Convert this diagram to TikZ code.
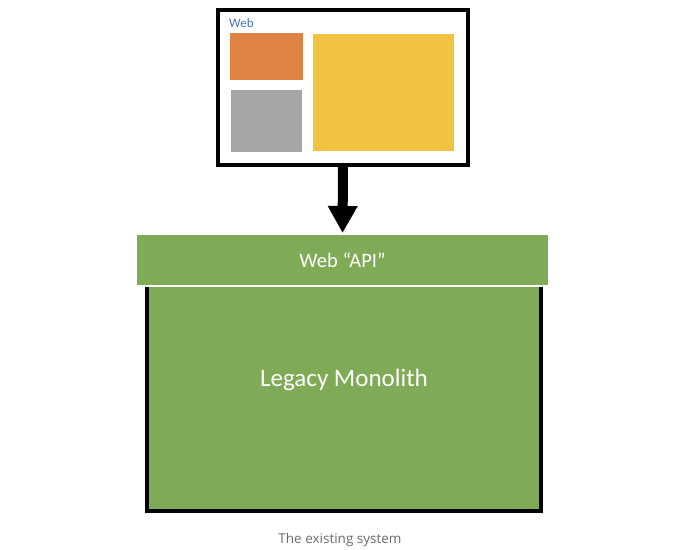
\documentclass[tikz,border=0pt]{standalone}
\usepackage{fontspec}
\setmainfont{Carlito}
\newfontfamily\captionfont{Open Sans}
\usetikzlibrary{positioning}
\usetikzlibrary{arrows.meta}

\definecolor{webblue}{HTML}{4472C4}
\definecolor{tileorange}{HTML}{DF8344}
\definecolor{tilegray}{HTML}{A5A5A5}
\definecolor{tileyellow}{HTML}{F2C242}
\definecolor{legacygreen}{HTML}{7FAB56}
\definecolor{captiongray}{HTML}{6B6B6B}

\begin{document}
\begin{tikzpicture}[x=1pt, y=-1pt,
        tile/.style = {inner sep=0pt, outer sep=0pt},
        screen/.style = {draw, line width=4pt, fill=white, inner sep=0pt},
        greenbox/.style = {fill=legacygreen, inner sep=0pt, outer sep=0pt,
            text=white, align=center},
        flow/.style = {line width=10pt, -{Triangle[width=28pt,length=27pt]}}]
        \useasboundingbox (0,0) rectangle (680,549);
        % the web client
        \node[screen, minimum width=250pt, minimum height=155pt] (web) at (343,87.5) {};
        \node[anchor=west, text=webblue, font=\fontsize{13}{15}\selectfont, inner sep=0pt]
            (weblabel) at (229,23) {Web};
        \node[tile, fill=tileorange, minimum width=73pt, minimum height=47pt] (orange) at (266.5,56.5) {};
        \node[tile, fill=tilegray, minimum width=71pt, minimum height=62pt] (gray) at (266.5,121) {};
        \node[tile, fill=tileyellow, minimum width=141pt, minimum height=117pt] (yellow) at (383.5,92.5) {};
        % the backend
        \node[greenbox, minimum width=411pt, minimum height=50pt,
            font=\fontsize{20.5}{24}\selectfont] (api) at (342.5,260) {Web “API”};
        \node[greenbox, minimum width=394pt, minimum height=224pt] (mono) at (344,399) {};
        \node[text=white, font=\fontsize{25}{30}\selectfont] (monolabel) at (344,380) {Legacy Monolith};
        \draw[line width=4pt] (mono.north west) -- (mono.south west)
            -- (mono.south east) -- (mono.north east);
        \draw[flow, shorten >=2pt] (web.south) -- (api.north);
        % caption
        \node[text=captiongray, font=\captionfont\fontsize{13.5}{16}\selectfont] (caption) at (340,540) {The existing system};
    \end{tikzpicture}
\end{document}
